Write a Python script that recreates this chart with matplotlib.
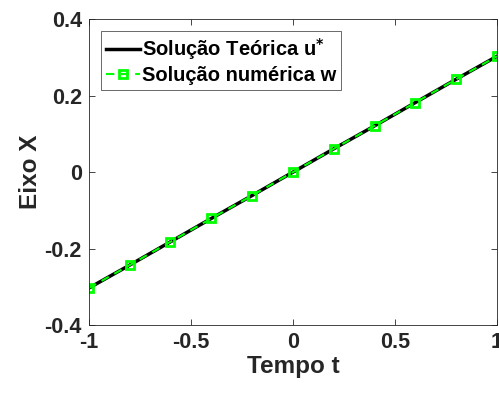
import matplotlib
matplotlib.use('Agg')
import matplotlib.pyplot as plt
import numpy as np

# dados
tempo = [-1.0, -0.8, -0.6, -0.4, -0.2, 0.0, 0.2, 0.4, 0.6, 0.8, 1.0]
u_teorica = [-0.303, -0.243, -0.182, -0.121, -0.061, 0.0, 0.061, 0.121, 0.182, 0.243, 0.303]
w_numerica = [-0.303, -0.243, -0.182, -0.121, -0.061, 0.0, 0.061, 0.121, 0.182, 0.243, 0.303]

xticks = [-1, -0.5, 0, 0.5, 1]
xtick_labels = ['-1', '-0.5', '0', '0.5', '1']
yticks = [-0.4, -0.2, 0, 0.2, 0.4]
ytick_labels = ['-0.4', '-0.2', '0', '0.2', '0.4']

plt.rcParams['font.family'] = ['Liberation Sans', 'DejaVu Sans']
plt.rcParams['font.weight'] = 'bold'
cinza = '#262626'

fig = plt.figure(figsize=(4.99, 3.99), dpi=100)
ax = fig.add_axes([0.178, 0.185, 0.818, 0.767])

ax.plot(tempo, u_teorica, color='black', lw=2.5, label='Solução Teórica u$^{*}$')
ax.plot(tempo, w_numerica, color='#00ff00', lw=1.5, ls='--', dashes=(4, 3),
        marker='s', markersize=6, markerfacecolor='none', markeredgewidth=2,
        label='Solução numérica w')

ax.set_xlim(-1, 1)
ax.set_ylim(-0.4, 0.4)
ax.set_xticks(xticks)
ax.set_xticklabels(xtick_labels)
ax.set_yticks(yticks)
ax.set_yticklabels(ytick_labels)
ax.tick_params(direction='in', top=True, right=True, labelsize=15.5, length=4,
               width=0.6, colors=cinza, pad=5)
for s in ax.spines.values():
    s.set_linewidth(0.6)
    s.set_color(cinza)

ax.set_xlabel('Tempo t', fontsize=17.5, fontweight='bold', labelpad=1, color=cinza)
ax.set_ylabel('Eixo X', fontsize=17.5, fontweight='bold', labelpad=2, color=cinza)

leg = ax.legend(loc='upper left', fontsize=14.5, frameon=True, fancybox=False,
                edgecolor=cinza, handlelength=1.7, handletextpad=0.1,
                borderaxespad=0.6, labelspacing=0.2, borderpad=0.25)
leg.get_frame().set_linewidth(0.6)
for t in leg.get_texts():
    t.set_fontweight('bold')

plt.savefig('out.png', dpi=100)
